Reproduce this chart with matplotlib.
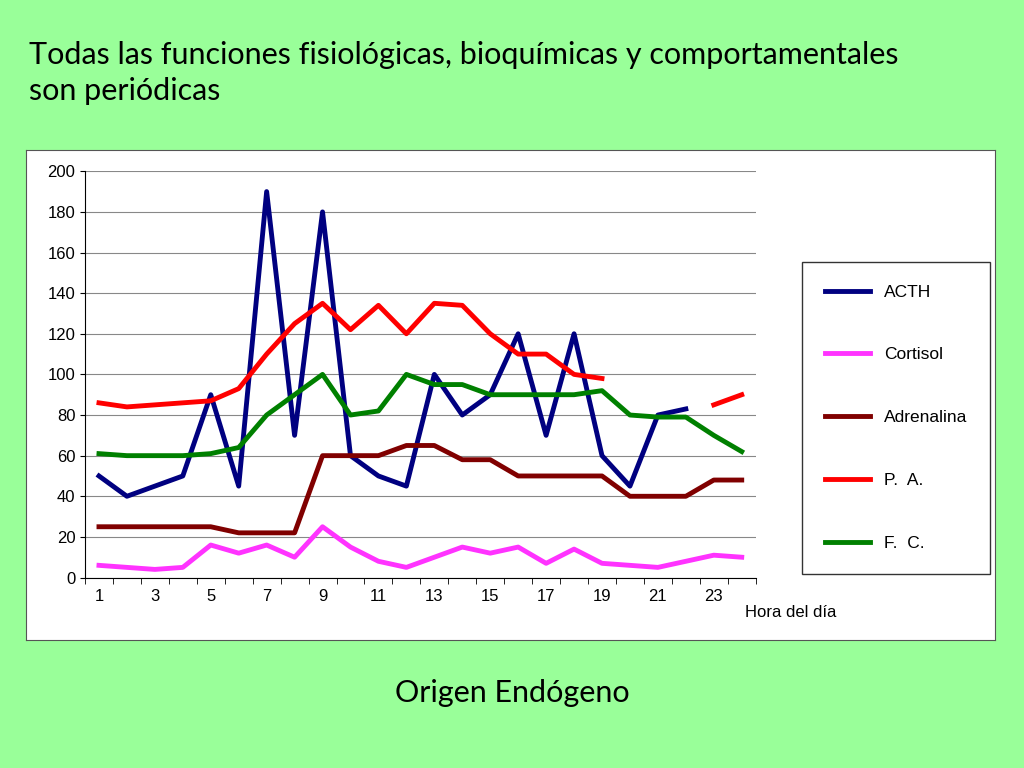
import matplotlib
matplotlib.use("Agg")
import matplotlib.pyplot as plt
import numpy as np

plt.rcParams["font.family"] = "Liberation Sans"

hours = list(range(1, 25))
nan = np.nan
acth = [50, 40, 45, 50, 90, 45, 190, 70, 180, 60, 50, 45, 100, 80, 90, 120, 70, 120, 60, 45, 80, 83, nan, nan]
cortisol = [6, 5, 4, 5, 16, 12, 16, 10, 25, 15, 8, 5, 10, 15, 12, 15, 7, 14, 7, 6, 5, 8, 11, 10]
adrenalina = [25, 25, 25, 25, 25, 22, 22, 22, 60, 60, 60, 65, 65, 58, 58, 50, 50, 50, 50, 40, 40, 40, 48, 48]
pa = [86, 84, 85, 86, 87, 93, 110, 125, 135, 122, 134, 120, 135, 134, 120, 110, 110, 100, 98, nan, nan, nan, 85, 90]
fc = [61, 60, 60, 60, 61, 64, 80, 90, 100, 80, 82, 100, 95, 95, 90, 90, 90, 90, 92, 80, 79, 79, 70, 62]

series = [("ACTH", acth, "#000080"), ("Cortisol", cortisol, "#FF33FF"),
          ("Adrenalina", adrenalina, "#800000"), ("P.  A.", pa, "#FF0000"),
          ("F.  C.", fc, "#008000")]

fig = plt.figure(figsize=(10.24, 7.68), dpi=100, facecolor="#99FF99")
fig.text(0.028, 0.905, "Todas las funciones fisiológicas, bioquímicas y comportamentales\nson periódicas",
         fontsize=22, family="Lato", va="center", ha="left", linespacing=1.35)
fig.text(0.5, 0.098, "Origen Endógeno", fontsize=22, family="Lato", ha="center", va="center")

# white chart box
box = fig.add_axes([0.025, 0.167, 0.947, 0.638])
box.set_xticks([]); box.set_yticks([])
box.set_facecolor("white")
for s in box.spines.values():
    s.set_color("#555555")

ax = fig.add_axes([0.083, 0.248, 0.655, 0.529])
for name, vals, col in series:
    ax.plot(hours, vals, color=col, lw=3.5, label=name)
ax.set_xlim(0.55, 24.45)
ax.set_ylim(0, 200)
ax.set_yticks(range(0, 201, 20))
ax.set_xticks(range(1, 24, 2))
ax.set_xticks(np.arange(0.5, 25, 1), minor=True)
ax.tick_params(axis="x", which="minor", length=4)
ax.tick_params(axis="x", which="major", length=0, pad=8)
ax.tick_params(labelsize=12)
ax.grid(axis="y", color="#888888", lw=0.8)
for s in ["top", "right"]:
    ax.spines[s].set_visible(False)
ax.set_axisbelow(True)
fig.text(0.728, 0.197, "Hora del día", fontsize=12)

h, l = ax.get_legend_handles_labels()
leg = fig.legend(h, l, loc="center", bbox_to_anchor=(0.875, 0.456), fontsize=12.5,
                 frameon=True, fancybox=False, edgecolor="black", labelspacing=2.75,
                 handlelength=2.6, borderpad=1.3)
leg.get_frame().set_linewidth(1.0)

fig.savefig("out.png", dpi=100, facecolor=fig.get_facecolor())
